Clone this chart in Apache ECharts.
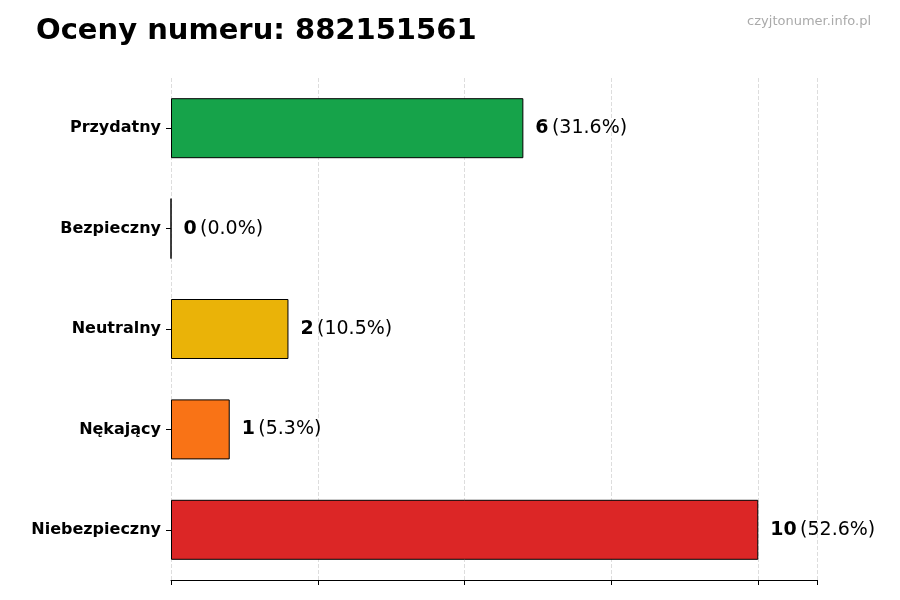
<!DOCTYPE html>
<html><head><meta charset="utf-8">
<script src="https://cdn.jsdelivr.net/npm/echarts@6/dist/echarts.min.js"></script>
<style>html,body{margin:0;padding:0;background:#fff}#c{width:900px;height:600px}</style>
</head><body><div id="c"></div>
<script>
const categories = ['Niebezpieczny','Nękający','Neutralny','Bezpieczny','Przydatny'];
const values = [10,1,2,0,6];
const percents = ['52.6%','5.3%','10.5%','0.0%','31.6%'];
const colors = ['#dc2626','#f97316','#eab308','#3b82f6','#16a34a'];
const chart = echarts.init(document.getElementById('c'));
chart.setOption({
  animation:false,
  title:[{text:'Oceny numeru: 882151561',left:31,top:12,textStyle:{fontFamily:'DejaVu Sans',fontSize:29,fontWeight:'bold',color:'#000'}},
         {text:'czyjtonumer.info.pl',right:24,top:10,textStyle:{fontFamily:'DejaVu Sans',fontSize:13,fontWeight:'normal',color:'#aaa'}}],
  grid:{left:171,right:83,top:78,bottom:20},
  xAxis:{type:'value',min:0,max:11,interval:2.5,
    axisLine:{show:true,lineStyle:{color:'#000'}},axisTick:{show:true,length:5,lineStyle:{color:'#000'}},
    axisLabel:{show:false},
    splitLine:{show:true,lineStyle:{type:'dashed',color:'#ddd'}}},
  yAxis:{type:'category',data:categories,
    axisLine:{show:false},axisTick:{show:true,length:5,alignWithLabel:true,lineStyle:{color:'#000'}},
    axisLabel:{fontFamily:'DejaVu Sans',fontSize:16,fontWeight:'bold',color:'#000',margin:10}},
  series:[{type:'bar',barWidth:60,
    data:values.map((v,i)=>({value:v,itemStyle:{color:colors[i],borderColor:'#000',borderWidth:1}})),
    label:{show:true,position:'right',distance:12,
      formatter:p=>'{b|'+values[p.dataIndex]+'} {n|('+percents[p.dataIndex]+')}',
      rich:{b:{fontFamily:'DejaVu Sans',fontSize:19,fontWeight:'bold',color:'#000'},
            n:{fontFamily:'DejaVu Sans',fontSize:19,color:'#000'}}}}]
});
</script></body></html>
